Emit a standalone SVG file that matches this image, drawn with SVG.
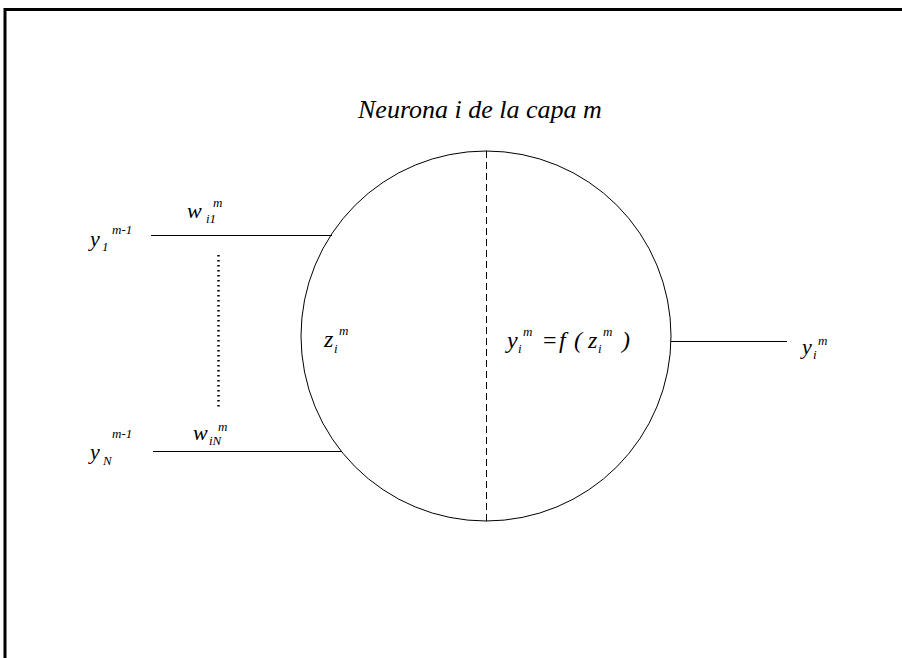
<svg xmlns="http://www.w3.org/2000/svg" width="902" height="658" viewBox="0 0 902 658">
<style>
text{font-family:"Liberation Serif","Times New Roman",serif;font-style:italic;fill:#000}
.m{font-size:22px}
.b{font-size:24px}
.s{font-size:13px}
.ln{stroke:#000;stroke-width:1;fill:none}
</style>
<rect width="902" height="658" fill="#fff"/>
<rect x="5" y="9.5" width="905" height="660" fill="none" stroke="#000" stroke-width="3"/>
<g id="title"><text x="358" y="118" style="font-size:26px">Neurona i de la capa m</text></g>
<g id="neuron">
<circle cx="486" cy="336" r="185" class="ln"/>
<line x1="486.5" y1="151" x2="486.5" y2="521" stroke="#000" stroke-width="1" stroke-dasharray="7 4"/>
<text x="324" y="347" class="b">z</text><text x="334" y="353" class="s">i</text><text x="339" y="335" class="s">m</text>
<text x="507" y="348" class="b">y</text><text x="518" y="353" class="s">i</text><text x="523" y="336" class="s">m</text>
<text x="543" y="348" class="b" style="font-style:normal">=</text>
<text x="559" y="348" class="b">f</text>
<text x="574" y="348" class="b">(</text>
<text x="588" y="348" class="b">z</text><text x="598" y="353" class="s">i</text><text x="603" y="336" class="s">m</text>
<text x="622" y="348" class="b">)</text>
</g>
<g id="connectors">
<line x1="151" y1="235.5" x2="332" y2="235.5" class="ln"/>
<line x1="153" y1="451.5" x2="342" y2="451.5" class="ln"/>
<line x1="671" y1="341.5" x2="787" y2="341.5" class="ln"/>
<line x1="218.5" y1="255" x2="218.5" y2="407" stroke="#000" stroke-width="2.5" stroke-dasharray="1.5 3.5"/>
</g>
<g id="input1">
<text x="90" y="246" class="m">y</text><text x="102" y="251" class="s">1</text><text x="112" y="234" class="s">m-1</text>
<text x="187" y="218" class="m">w</text><text x="206" y="223" class="s">i1</text><text x="213" y="207" class="s">m</text>
</g>
<g id="inputN">
<text x="90" y="459" class="m">y</text><text x="103" y="465" class="s">N</text><text x="112" y="438" class="s">m-1</text>
<text x="193" y="440" class="m">w</text><text x="209" y="445" class="s">iN</text><text x="218" y="431" class="s">m</text>
</g>
<g id="output">
<text x="802" y="354" class="m">y</text><text x="813" y="359" class="s">i</text><text x="818" y="345" class="s">m</text>
</g>
</svg>
